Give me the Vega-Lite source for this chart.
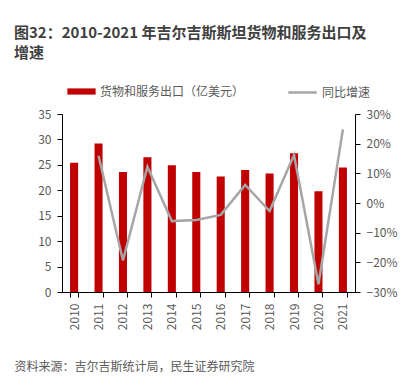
{
  "$schema": "https://vega.github.io/schema/vega-lite/v6.json",
  "width": 293,
  "height": 178,
  "autosize": {"type": "none"},
  "padding": {"left": 62, "top": 114, "right": 62, "bottom": 88},
  "background": "white",
  "config": {
    "font": "Noto Sans CJK SC",
    "view": {"stroke": null},
    "axis": {"labelColor": "#595959", "labelFontSize": 12, "domainColor": "#000000", "tickColor": "#000000", "grid": false, "labelFont": "Noto Sans CJK SC"}
  },
  "title": {
    "text": ["图32：2010-2021 年吉尔吉斯斯坦货物和服务出口及", "增速"],
    "anchor": "start",
    "frame": "group",
    "dx": -48,
    "fontSize": 15,
    "fontWeight": "bold",
    "color": "#404040",
    "lineHeight": 20,
    "offset": 16
  },
  "data": {
    "values": [
      {"year": "2010", "export": 25.4, "growth": null},
      {"year": "2011", "export": 29.2, "growth": 0.159},
      {"year": "2012", "export": 23.6, "growth": -0.194},
      {"year": "2013", "export": 26.5, "growth": 0.122},
      {"year": "2014", "export": 24.9, "growth": -0.061},
      {"year": "2015", "export": 23.6, "growth": -0.057},
      {"year": "2016", "export": 22.7, "growth": -0.040},
      {"year": "2017", "export": 24.0, "growth": 0.061},
      {"year": "2018", "export": 23.3, "growth": -0.027},
      {"year": "2019", "export": 27.3, "growth": 0.162},
      {"year": "2020", "export": 19.8, "growth": -0.274},
      {"year": "2021", "export": 24.5, "growth": 0.248}
    ]
  },
  "layer": [
    {
      "mark": {"type": "bar", "color": "#C00000"},
      "transform": [{"calculate": "'货物和服务出口（亿美元）'", "as": "s1"}],
      "encoding": {
        "x": {
          "field": "year",
          "type": "nominal",
          "scale": {"paddingInner": 0.67, "paddingOuter": 0.33},
          "axis": {
            "title": "资料来源：吉尔吉斯统计局，民生证券研究院",
            "titleFontSize": 12,
            "titleFontWeight": "normal",
            "titleColor": "#595959",
            "titleAnchor": "start",
            "titleAlign": "left",
            "titleX": -48,
            "titleY": 74,
            "titleBaseline": "middle",
            "labelAngle": -90,
            "labelAlign": "right",
            "labelBaseline": "middle",
            "labelPadding": 6,
            "tickBand": "extent",
            "tickSize": 5
          }
        },
        "y": {
          "field": "export",
          "type": "quantitative",
          "scale": {"domain": [0, 35]},
          "axis": {"title": null, "values": [0, 5, 10, 15, 20, 25, 30, 35], "tickSize": 5, "labelPadding": 6}
        },
        "fill": {
          "field": "s1",
          "type": "nominal",
          "scale": {"range": ["#C00000"]},
          "legend": {
            "title": null,
            "orient": "none",
            "legendX": 5,
            "legendY": -37,
            "symbolType": "M-1,-0.22H1V0.22H-1Z",
            "symbolSize": 800,
            "symbolStrokeWidth": 0,
            "labelFontSize": 12,
            "labelColor": "#595959",
            "labelOffset": 4
          }
        }
      }
    },
    {
      "mark": {"type": "line", "color": "#A6A6A6", "strokeWidth": 2.5},
      "transform": [{"filter": "datum.growth != null"}, {"calculate": "'同比增速'", "as": "s2"}],
      "encoding": {
        "x": {"field": "year", "type": "nominal"},
        "y": {
          "field": "growth",
          "type": "quantitative",
          "scale": {"domain": [-0.3, 0.3]},
          "axis": {"title": null, "orient": "right", "format": ".0%", "values": [-0.3, -0.2, -0.1, 0, 0.1, 0.2, 0.3], "tickSize": 5, "labelPadding": 6}
        },
        "stroke": {
          "field": "s2",
          "type": "nominal",
          "scale": {"range": ["#A6A6A6"]},
          "legend": {
            "title": null,
            "orient": "none",
            "legendX": 225,
            "legendY": -37,
            "symbolType": "stroke",
            "symbolSize": 800,
            "symbolStrokeWidth": 2.5,
            "labelFontSize": 12,
            "labelColor": "#595959",
            "labelOffset": 4
          }
        }
      }
    }
  ],
  "resolve": {"scale": {"y": "independent", "fill": "independent", "stroke": "independent"}}
}
